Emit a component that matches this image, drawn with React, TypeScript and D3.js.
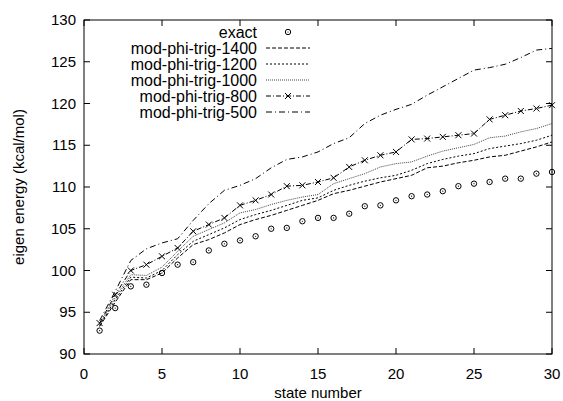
import React from "react";
import * as d3 from "d3";

const states = d3.range(1, 31);
const exact = [92.8, 95.5, 98.1, 98.3, 99.7, 100.7, 101.0, 102.4, 103.2, 103.6, 104.1, 105.0, 105.1, 105.9, 106.3, 106.3, 106.8, 107.7, 107.8, 108.4, 108.9, 109.1, 109.5, 110.1, 110.4, 110.6, 111.0, 111.0, 111.6, 111.8];
const trig1400 = [93.3, 96.2, 98.9, 98.9, 99.7, 101.5, 103.1, 103.7, 104.5, 105.5, 106.1, 106.6, 107.2, 107.8, 108.4, 109.2, 109.6, 110.1, 110.6, 111.0, 111.4, 112.3, 112.5, 112.9, 113.2, 113.6, 113.8, 114.3, 114.8, 115.4];
const trig1200 = [93.4, 96.5, 99.2, 99.1, 100.0, 101.9, 103.5, 104.3, 105.1, 106.1, 106.7, 107.2, 107.8, 108.4, 108.7, 109.6, 110.2, 110.7, 111.1, 111.4, 112.0, 112.8, 113.3, 113.7, 114.0, 114.6, 114.9, 115.2, 115.6, 116.2];
const trig1000 = [93.5, 96.8, 99.5, 99.4, 100.4, 102.3, 104.1, 104.9, 105.7, 106.9, 107.3, 107.9, 108.4, 108.8, 109.1, 110.4, 111.0, 111.6, 112.4, 112.8, 113.0, 113.7, 114.3, 114.7, 115.1, 115.9, 116.1, 116.6, 117.0, 117.6];
const trig800 = [93.7, 97.1, 100.0, 100.7, 101.7, 102.7, 104.7, 105.5, 106.3, 107.8, 108.4, 109.1, 110.1, 110.2, 110.6, 111.1, 112.4, 113.2, 113.8, 114.2, 115.7, 115.8, 116.0, 116.2, 116.4, 118.1, 118.6, 119.1, 119.4, 119.8];
const trig500 = [94.0, 97.5, 101.2, 102.6, 103.3, 103.8, 106.0, 108.0, 109.6, 110.2, 111.0, 112.3, 113.3, 113.6, 114.2, 115.2, 115.9, 117.6, 118.6, 119.3, 119.9, 121.0, 122.0, 123.0, 124.0, 124.3, 124.7, 125.5, 126.4, 126.6];

const xTicks = [0, 5, 10, 15, 20, 25, 30];
const yTicks = [90, 95, 100, 105, 110, 115, 120, 125, 130];

const legendNames = ["exact", "mod-phi-trig-1400", "mod-phi-trig-1200", "mod-phi-trig-1000", "mod-phi-trig-800", "mod-phi-trig-500"];

const W = 563, H = 401;
const L = 84, R = 552, T = 20, B = 354;
const font = "'Liberation Sans', Arial, Helvetica, sans-serif";

export default function App() {
  const x = d3.scaleLinear().domain([0, 30]).range([L, R]);
  const y = d3.scaleLinear().domain([90, 130]).range([B, T]);
  const line = (vals: number[]) =>
    d3.line<number>().x((_, i) => x(states[i])).y((v) => y(v))(vals) || "";

  const series = [
    { name: legendNames[1], vals: trig1400, dash: "4,2", color: "#000", w: 1 },
    { name: legendNames[2], vals: trig1200, dash: "2,2", color: "#000", w: 1 },
    { name: legendNames[3], vals: trig1000, dash: "1,1", color: "#444", w: 1 },
    { name: legendNames[4], vals: trig800, dash: "5,2,1,2", color: "#000", w: 1, marker: true },
    { name: legendNames[5], vals: trig500, dash: "6,3,1,3", color: "#000", w: 1 },
  ];

  const tick = 6;
  const fs = 15;
  const legFs = 16;
  const legX = 257, legY0 = 32, legDy = 16;
  const sampleX1 = 266, sampleX2 = 310;

  const cross = (cx: number, cy: number, k: string) => (
    <path key={k} d={`M${cx - 3},${cy - 3}L${cx + 3},${cy + 3}M${cx - 3},${cy + 3}L${cx + 3},${cy - 3}`} stroke="#000" strokeWidth={1} />
  );
  const ring = (cx: number, cy: number, k: string) => (
    <g key={k}>
      <circle cx={cx} cy={cy} r={2.7} fill="none" stroke="#000" strokeWidth={1} />
      <circle cx={cx} cy={cy} r={0.6} fill="#000" />
    </g>
  );

  return (
    <svg width={W} height={H} style={{ position: "absolute", left: 0, top: 0, background: "#fff" }} fontFamily={font}>
      <rect x={0} y={0} width={W} height={H} fill="#fff" />
      {xTicks.map((t) => (
        <g key={"x" + t}>
          <line x1={x(t)} x2={x(t)} y1={B} y2={B - tick} stroke="#000" />
          <line x1={x(t)} x2={x(t)} y1={T} y2={T + tick} stroke="#000" />
          <text x={x(t)} y={379} fontSize={fs} textAnchor="middle">{t}</text>
        </g>
      ))}
      {yTicks.map((t) => (
        <g key={"y" + t}>
          <line x1={L} x2={L + tick} y1={y(t)} y2={y(t)} stroke="#000" />
          <line x1={R} x2={R - tick} y1={y(t)} y2={y(t)} stroke="#000" />
          <text x={76} y={y(t) + 5} fontSize={fs} textAnchor="end">{t}</text>
        </g>
      ))}
      {series.map((s) => (
        <g key={s.name}>
          <path d={line(s.vals)} fill="none" stroke={s.color} strokeWidth={s.w} strokeDasharray={s.dash} />
          {s.marker && s.vals.map((v, i) => cross(x(states[i]), y(v), s.name + i))}
        </g>
      ))}
      {exact.map((v, i) => ring(x(states[i]), y(v), "e" + i))}
      {legendNames.map((n, i) => (
        <text key={"lt" + n} x={legX} y={legY0 + i * legDy + 5.5} fontSize={legFs} textAnchor="end">{n}</text>
      ))}
      {ring((sampleX1 + sampleX2) / 2, legY0, "lring")}
      {series.map((s, i) => {
        const cy = legY0 + (i + 1) * legDy;
        return (
          <g key={"ls" + s.name}>
            <line x1={sampleX1} x2={sampleX2} y1={cy} y2={cy} stroke={s.color} strokeDasharray={s.dash} />
            {s.marker && cross((sampleX1 + sampleX2) / 2, cy, "lm")}
          </g>
        );
      })}
      <rect x={L} y={T} width={R - L} height={B - T} fill="none" stroke="#000" strokeWidth={1} />
      <text x={(L + R) / 2} y={398} fontSize={fs} textAnchor="middle">state number</text>
      <text transform={`translate(24,${(T + B) / 2}) rotate(-90)`} fontSize={fs} textAnchor="middle">eigen energy (kcal/mol)</text>
    </svg>
  );
}
